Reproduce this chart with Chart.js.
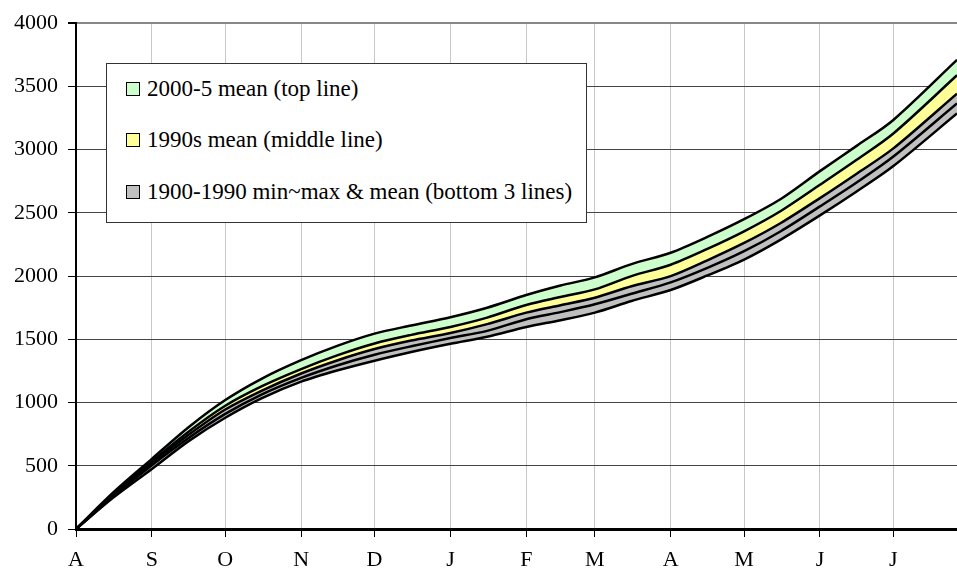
<!DOCTYPE html>
<html>
<head>
<meta charset="utf-8">
<script src="https://cdn.jsdelivr.net/npm/chart.js@4/dist/chart.umd.min.js"></script>
<style>
  body { margin: 0; background: #fff; }
  #wrap { position: relative; width: 957px; height: 574px; }
  #legend {
    position: absolute; left: 106px; top: 63px; width: 479px; height: 158px;
    background: #fff; border: 1px solid #333;
    font-family: "Liberation Serif", "Times New Roman", serif; font-size: 23px; color: #000;
  }
  .item { position: absolute; left: 19px; white-space: nowrap; }
  .box { display: inline-block; width: 12px; height: 12px; border: 1px solid #000; margin-right: 7px; vertical-align: 0px; }
</style>
</head>
<body>
<div id="wrap">
  <canvas id="chart-area" width="957" height="574"></canvas>
  <div id="legend"></div>
</div>
<script>
// day of season (0 = 1 Aug)
var days = [0, 15, 31, 46, 61, 76, 92, 107, 122, 137, 153, 168, 184, 198, 212, 227, 243, 258, 273, 288, 304, 319, 334, 360];

// cumulative values
var mean2000s = [0, 285, 555, 805, 1020, 1190, 1335, 1450, 1545, 1610, 1675, 1750, 1850, 1925, 1990, 2095, 2185, 2310, 2450, 2610, 2830, 3030, 3235, 3710];
var mean1990s = [0, 270, 535, 770, 975, 1130, 1265, 1375, 1467, 1535, 1598, 1672, 1772, 1835, 1895, 2000, 2090, 2215, 2354, 2515, 2722, 2920, 3128, 3588];
var max1900s  = [0, 262, 520, 745, 945, 1095, 1230, 1335, 1423, 1490, 1550, 1620, 1711, 1770, 1829, 1920, 2000, 2125, 2262, 2420, 2617, 2810, 3010, 3443];
var avg1900s  = [0, 255, 505, 720, 910, 1065, 1195, 1295, 1378, 1445, 1510, 1567, 1659, 1715, 1777, 1860, 1950, 2065, 2197, 2355, 2551, 2740, 2945, 3365];
var min1900s  = [0, 245, 475, 695, 880, 1035, 1165, 1255, 1331, 1400, 1465, 1520, 1598, 1651, 1711, 1803, 1890, 2005, 2131, 2289, 2480, 2669, 2870, 3286];

// month ticks
var monthDays = [0, 31, 61, 92, 122, 153, 184, 212, 243, 273, 304, 334];
var monthLetters = ['A', 'S', 'O', 'N', 'D', 'J', 'F', 'M', 'A', 'M', 'J', 'J'];

var legendLabels = ['2000-5 mean (top  line)', '1990s mean (middle line)', '1900-1990 min~max & mean (bottom 3 lines)'];
var legendColors = ['#ccffcc', '#ffff99', '#c0c0c0'];

function points(vals) {
  var out = [];
  for (var i = 0; i < days.length; i++) out.push({x: days[i], y: vals[i]});
  return out;
}

function band(label, vals, fill) {
  return {
    label: label,
    data: points(vals),
    borderColor: '#000',
    borderWidth: 2.5,
    backgroundColor: fill || 'transparent',
    fill: fill ? '-1' : false,
    pointRadius: 0,
    tension: 0.3
  };
}

var serif = {family: '"Liberation Serif", "Times New Roman", serif', size: 22};

var config = {
  type: 'line',
  data: {
    datasets: [
      band('min', min1900s, null),
      band('mean', avg1900s, '#c0c0c0'),
      band('max', max1900s, '#c0c0c0'),
      band('1990s', mean1990s, '#ffff99'),
      band('2000-5', mean2000s, '#ccffcc')
    ]
  },
  options: {
    responsive: false,
    animation: false,
    layout: {padding: {top: 20, right: 0, left: 0, bottom: 0}},
    plugins: {legend: {display: false}, tooltip: {enabled: false}},
    scales: {
      x: {
        type: 'linear', min: 0, max: 360,
        afterBuildTicks: function(s) { s.ticks = monthDays.map(function(v) { return {value: v}; }); },
        afterFit: function(s) { s.height = 45; },
        grid: {color: '#c8c8c8', lineWidth: 1, tickLength: 8, tickColor: '#000'},
        border: {color: '#000', width: 3},
        ticks: {
          autoSkip: false, maxRotation: 0, padding: 10, color: '#000', font: serif,
          callback: function(v, i) { return monthLetters[i]; }
        }
      },
      y: {
        min: 0, max: 4000,
        afterFit: function(s) { s.width = 76; },
        grid: {
          color: function(c) { return c.tick && c.tick.value === 4000 ? '#888' : '#444'; },
          lineWidth: function(c) { return c.tick && c.tick.value === 4000 ? 2 : 1; },
          tickLength: 8, tickColor: '#000'
        },
        border: {color: '#000', width: 2},
        ticks: {
          stepSize: 500, padding: 10, color: '#000', font: serif,
          callback: function(v) { return String(v); }
        }
      }
    }
  }
};

var ctx = document.getElementById('chart-area').getContext('2d');
window.myChart = new Chart(ctx, config);

// legend box inside the plot
var leg = document.getElementById('legend');
var tops = [12, 63, 115];
for (var i = 0; i < legendLabels.length; i++) {
  var d = document.createElement('div');
  d.className = 'item';
  d.style.top = tops[i] + 'px';
  d.innerHTML = '<span class="box" style="background:' + legendColors[i] + '"></span>';
  d.appendChild(document.createTextNode(legendLabels[i]));
  leg.appendChild(d);
}
</script>
</body>
</html>
